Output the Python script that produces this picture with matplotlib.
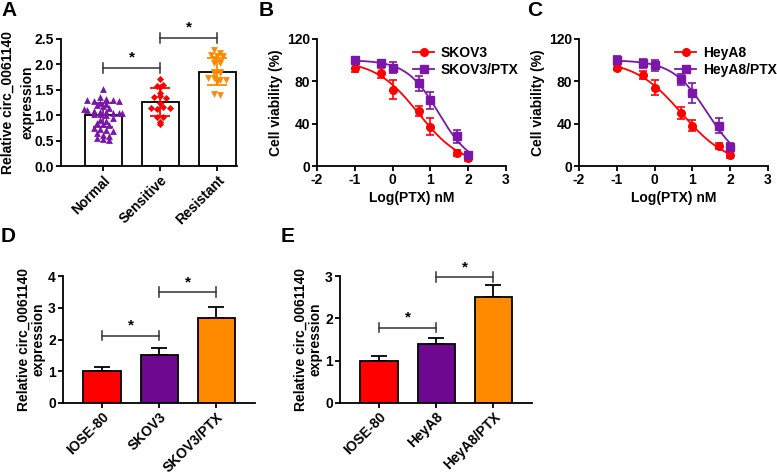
import numpy as np
import matplotlib
matplotlib.use("Agg")
import matplotlib.pyplot as plt

plt.rcParams['font.family'] = ['Liberation Sans', 'DejaVu Sans']
plt.rcParams['font.weight'] = 'bold'
plt.rcParams['axes.labelweight'] = 'bold'
plt.rcParams['axes.unicode_minus'] = False

# ---------------- data ----------------
# Panel A
groups_a = ["Normal", "Sensitive", "Resistant"]
normal_pts = [1.52, 1.35, 1.32, 1.30, 1.28, 1.25, 1.22, 1.20, 1.30, 1.27, 1.18, 1.15,
              1.12, 1.10, 1.08, 1.07, 1.06, 1.05, 1.05, 1.04, 1.03, 1.02, 1.00,
              0.95, 0.90, 0.88, 0.85, 0.82, 0.80, 0.75, 0.72, 0.70, 0.68, 0.65,
              0.62, 0.60, 0.56, 0.53, 0.52]
sensitive_pts = [1.72, 1.56, 1.58, 1.60, 1.36, 1.38, 1.44, 1.34, 1.15, 1.25, 1.13,
                 1.17, 1.15, 0.97, 0.97, 0.83, 0.87]
resistant_pts = [2.29, 2.22, 2.19, 2.17, 2.16, 2.10, 2.04, 2.02, 2.02, 1.86, 1.86,
                 1.84, 1.84, 1.74, 1.73, 1.70, 1.70, 1.66, 1.42, 1.40]
mean_a = [1.00, 1.26, 1.86]
sd_a = [0.24, 0.27, 0.26]
brackets_a = [(0, 1, 1.93), (1, 2, 2.52)]

# Panel B / C
log_ptx = [-1, -0.3, 0, 0.7, 1, 1.7, 2]
skov3 = [93, 88, 72, 52, 37, 12, 8]
skov3_err = [4, 5, 9, 5, 8, 3, 3]
skov3_ptx = [100, 97, 93, 78, 62, 28, 10]
skov3_ptx_err = [2, 3, 5, 7, 8, 6, 3]
heya8 = [93, 86, 74, 50, 38, 19, 10]
heya8_err = [2, 4, 7, 6, 5, 3, 2]
heya8_ptx = [100, 97, 95, 82, 69, 38, 18]
heya8_ptx_err = [4, 4, 5, 5, 9, 7, 4]

# Panel D
groups_d = ["IOSE-80", "SKOV3", "SKOV3/PTX"]
mean_d = [1.0, 1.5, 2.68]
err_d = [0.13, 0.22, 0.33]
brackets_d = [(0, 1, 2.12), (1, 2, 3.50)]

# Panel E
groups_e = ["IOSE-80", "HeyA8", "HeyA8/PTX"]
mean_e = [1.0, 1.4, 2.5]
err_e = [0.10, 0.14, 0.28]
brackets_e = [(0, 1, 1.78), (1, 2, 2.98)]

# ---------------- style ----------------
RED = '#FF0000'
PURPLE = '#7A17A8'
ORANGE = '#FF8A00'
BAR_PURPLE = '#6E0891'
TICK_FS = 10
LAB_FS = 10
LW = 1.3

W, H = 777, 474
fig = plt.figure(figsize=(W / 100, H / 100), dpi=100)


def add_ax(x0, x1, ytop, ybot):
    return fig.add_axes([x0 / W, 1 - ybot / H, (x1 - x0) / W, (ybot - ytop) / H])


def style(ax):
    for s in ['top', 'right']:
        ax.spines[s].set_visible(False)
    for s in ['left', 'bottom']:
        ax.spines[s].set_linewidth(LW)
    ax.tick_params(width=LW, length=3.6, labelsize=TICK_FS, pad=1.5)
    for lab in ax.get_xticklabels() + ax.get_yticklabels():
        lab.set_fontweight('bold')


def bracket(ax, i, j, y, tick):
    ax.plot([i, j], [y, y], color='#333333', lw=1.1, clip_on=False)
    for k in (i, j):
        ax.plot([k, k], [y - tick, y + tick], color='#333333', lw=1.1, clip_on=False)
    ax.text((i + j) / 2, y + tick * 0.6, '*', ha='center', va='bottom',
            fontsize=11, fontweight='bold', clip_on=False)


def jitter(vals, binw=0.09, step=0.11):
    vals = np.asarray(vals, float)
    xs = np.zeros_like(vals)
    bins = np.round(vals / binw).astype(int)
    for b in np.unique(bins):
        idx = np.where(bins == b)[0]
        n = len(idx)
        xs[idx] = (np.arange(n) - (n - 1) / 2) * step
    return np.clip(xs, -0.33, 0.33)


def hill(x, logic50, slope):
    x = np.asarray(x, float)
    return 100.0 / (1 + 10 ** ((x - logic50) * slope))


def fit_hill(x, y):
    best = None
    for l in np.linspace(-1, 3, 401):
        for s in np.linspace(0.2, 3, 141):
            e = np.sum((hill(x, l, s) - np.asarray(y)) ** 2)
            if best is None or e < best[0]:
                best = (e, l, s)
    return best[1], best[2]


# ---------------- Panel A ----------------
axA = add_ax(61, 237, 39, 166)
xa = np.arange(3)
axA.bar(xa, mean_a, width=0.65, color='white', edgecolor='black', linewidth=LW, zorder=1)
pts = [normal_pts, sensitive_pts, resistant_pts]
marks = ['^', 'D', 'v']
cols = [PURPLE, RED, ORANGE]
sizes = [24, 13, 24]
for i, (p, m, c, s) in enumerate(zip(pts, marks, cols, sizes)):
    axA.scatter(i + jitter(p), p, marker=m, color=c, s=s, linewidths=0, zorder=2)
    axA.errorbar(i, mean_a[i], yerr=sd_a[i], color=c, capsize=7, capthick=1.3,
                 elinewidth=1.3, zorder=3)
axA.set_xlim(-0.74, 2.35)
axA.set_ylim(0, 2.5)
axA.set_yticks([0, 0.5, 1.0, 1.5, 2.0, 2.5])
axA.set_yticklabels(['0.0', '0.5', '1.0', '1.5', '2.0', '2.5'])
axA.set_xticks(xa)
axA.set_xticklabels(groups_a, rotation=45, ha='right', rotation_mode='anchor')
axA.set_ylabel('Relative circ_0061140\nexpression', fontsize=LAB_FS, labelpad=0,
               linespacing=1.5)
style(axA)
for i, j, y in brackets_a:
    bracket(axA, i, j, y, 0.1)

# ---------------- Panel B / C ----------------
def curve_panel(x0, x1, d1, e1, d2, e2, labels):
    ax = add_ax(x0, x1, 39, 166)
    xs = np.linspace(-1, 2, 200)
    for d, e, c, m, lab in [(d1, e1, RED, 'o', labels[0]), (d2, e2, PURPLE, 's', labels[1])]:
        l, s = fit_hill(log_ptx, d)
        ax.plot(xs, hill(xs, l, s), color=c, lw=1.3, zorder=2)
        ax.errorbar(log_ptx, d, yerr=e, fmt=m, color=c, markersize=5.5, capsize=3,
                    elinewidth=1.2, capthick=1.2, zorder=3)
        ax.plot([], [], color=c, marker=m, markersize=5.5, lw=1.3, label=lab)
    ax.set_xlim(-2, 3)
    ax.set_ylim(0, 120)
    ax.set_xticks([-2, -1, 0, 1, 2, 3])
    ax.set_yticks([0, 40, 80, 120])
    ax.set_xlabel('Log(PTX) nM', fontsize=LAB_FS, labelpad=3)
    ax.set_ylabel('Cell viability (%)', fontsize=LAB_FS, labelpad=3)
    style(ax)
    leg = ax.legend(loc='upper left', bbox_to_anchor=(0.48, 0.99), frameon=False,
                    fontsize=10, handlelength=1.5, handletextpad=0.5, labelspacing=0.2,
                    borderaxespad=0)
    for t in leg.get_texts():
        t.set_fontweight('bold')
    return ax


curve_panel(317, 506, skov3, skov3_err, skov3_ptx, skov3_ptx_err, ['SKOV3', 'SKOV3/PTX'])
curve_panel(579, 768, heya8, heya8_err, heya8_ptx, heya8_ptx_err, ['HeyA8', 'HeyA8/PTX'])

# ---------------- Panel D / E ----------------
def bar_panel(x0, x1, groups, means, errs, brackets, ymax, tick):
    ax = add_ax(x0, x1, 276, 403)
    xb = np.arange(3)
    ax.bar(xb, means, width=0.65, color=[RED, BAR_PURPLE, ORANGE], edgecolor='black',
           linewidth=LW, zorder=2)
    ax.errorbar(xb, means, yerr=[np.zeros(3), errs], fmt='none', ecolor='black',
                elinewidth=LW, capsize=6, capthick=LW, zorder=1)
    ax.set_xlim(-0.684, 2.68)
    ax.set_ylim(0, ymax)
    ax.set_yticks(np.arange(0, ymax + 1))
    ax.set_xticks(xb)
    ax.set_xticklabels(groups, rotation=45, ha='right', rotation_mode='anchor')
    ax.set_ylabel('Relative circ_0061140\nexpression', fontsize=LAB_FS, labelpad=2,
                  linespacing=1.1)
    style(ax)
    for i, j, y in brackets:
        bracket(ax, i, j, y, tick)
    return ax


bar_panel(63, 255, groups_d, mean_d, err_d, brackets_d, 4, 0.15)
bar_panel(340, 532, groups_e, mean_e, err_e, brackets_e, 3, 0.11)

# ---------------- Panel letters ----------------
for lab, x, y in [('A', 1, 1), ('B', 259, 1), ('C', 527, 1), ('D', 1, 227), ('E', 281, 227)]:
    fig.text(x / W, 1 - y / H, lab, fontsize=15, fontweight='bold', va='top', ha='left')

fig.savefig('out.png', dpi=100)
